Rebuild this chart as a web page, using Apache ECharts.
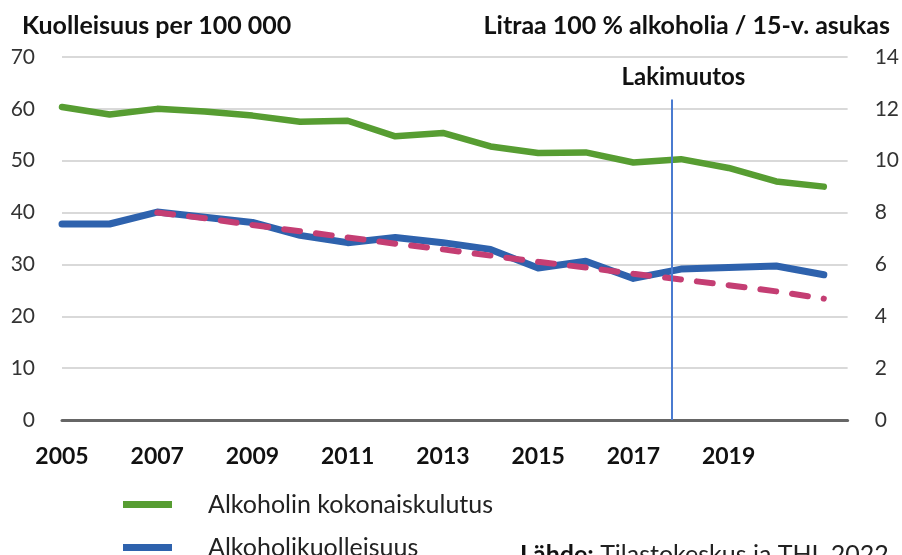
<!DOCTYPE html>
<html>
<head>
<meta charset="utf-8">
<script src="https://cdn.jsdelivr.net/npm/echarts@6/dist/echarts.min.js"></script>
<style>
html,body{margin:0;padding:0;background:#fff;}
#chartContainer{width:902px;height:555px;}
</style>
</head>
<body>
<div id="chartContainer"></div>
<script>
var myChart;//global so resize can redraw

var years=[2005,2006,2007,2008,2009,2010,2011,2012,2013,2014,2015,2016,2017,2018,2019,2020,2021];
// litraa 100 % alkoholia / 15-v. asukas (right axis)
var kulutus=[12.07,11.78,12.0,11.9,11.74,11.5,11.54,10.94,11.07,10.55,10.3,10.32,9.93,10.06,9.72,9.2,9.0];
// kuolleisuus per 100 000 (left axis)
var kuolleisuus=[37.8,37.8,40.1,39.1,38.1,35.6,34.2,35.2,34.2,32.9,29.3,30.6,27.3,29.1,29.4,29.7,28.0];
// trend line, from 2007 on
var trendYears=[2007,2008,2009,2010,2011,2012,2013,2014,2015,2016,2017,2018,2019,2020,2021];
var trendi=[40.0,38.9,37.6,36.4,35.2,34.0,32.9,31.7,30.5,29.4,28.2,27.1,26.0,24.8,23.4];
var lakimuutosVuosi=2017.8;
var leftTicks={min:0,max:70,interval:10};
var rightTicks={min:0,max:14,interval:2};

function pairs(xs,ys){
	var out=[];
	xs.forEach(function(x,i){out.push([x,ys[i]]);});
	return out;
}

function legendFor(name,top){
	return {
		data:[name],orient:'vertical',left:118,top:top,
		icon:'rect',itemWidth:49,itemHeight:7,
		textStyle:{fontFamily:'Lato',fontSize:25,color:'#222',padding:[0,0,0,31]}
	};
}

function showChart(){
	var dom=document.getElementById("chartContainer");
	myChart=echarts.init(dom);
	var font='Lato';
	var option={
		animation:false,
		textStyle:{fontFamily:font},
		title:[
			{text:'Kuolleisuus per 100 000',left:17,top:8,
			 textStyle:{fontFamily:font,fontSize:25,fontWeight:'bold',color:'#111'}},
			{text:'Litraa 100 % alkoholia / 15-v. asukas',right:7,top:8,
			 textStyle:{fontFamily:font,fontSize:25,fontWeight:'bold',color:'#111'}}
		],
		grid:{left:62,right:54,top:57,bottom:135},
		legend:[
			legendFor('Alkoholin kokonaiskulutus',487),
			legendFor('Alkoholikuolleisuus',530)
		],
		xAxis:{
			type:'value',min:2005,max:2021.5,interval:2,
			axisLine:{show:true,lineStyle:{color:'#666',width:3}},
			axisTick:{show:false},
			splitLine:{show:false},
			axisLabel:{margin:25,fontFamily:font,fontSize:23,fontWeight:'bold',color:'#111',
				showMaxLabel:false,
				formatter:function(v){return v<=2019?String(v):'';}}
		},
		yAxis:[
			{type:'value',min:leftTicks.min,max:leftTicks.max,interval:leftTicks.interval,
			 axisLine:{show:false},axisTick:{show:false},
			 splitLine:{lineStyle:{color:'#d9d9d9',width:2}},
			 axisLabel:{margin:27,fontFamily:font,fontSize:21,color:'#333'}},
			{type:'value',min:rightTicks.min,max:rightTicks.max,interval:rightTicks.interval,
			 axisLine:{show:false},axisTick:{show:false},
			 splitLine:{show:false},
			 axisLabel:{margin:27,fontFamily:font,fontSize:21,color:'#333'}}
		],
		series:[
			{name:'Alkoholin kokonaiskulutus',type:'line',yAxisIndex:1,
			 data:pairs(years,kulutus),showSymbol:false,
			 itemStyle:{color:'#579d32'},
			 lineStyle:{color:'#579d32',width:6.5,cap:'round',join:'round'}},
			{name:'Alkoholikuolleisuus',type:'line',yAxisIndex:0,
			 data:pairs(years,kuolleisuus),showSymbol:false,
			 itemStyle:{color:'#2e62ad'},
			 lineStyle:{color:'#2e62ad',width:7,cap:'round',join:'round'},
			 markLine:{
				silent:true,symbol:'none',
				lineStyle:{color:'#4a7bd0',width:2,type:'solid'},
				data:[[
					{coord:[lakimuutosVuosi,0]},
					{coord:[lakimuutosVuosi,61.8]}
				]],
				label:{show:true,position:'end',distance:10,formatter:'Lakimuutos',
					fontFamily:font,fontSize:24,fontWeight:'bold',color:'#111',padding:[0,0,0,24]}
			 }},
			{name:'Trendi',type:'line',yAxisIndex:0,
			 data:pairs(trendYears,trendi),showSymbol:false,
			 itemStyle:{color:'#c43e73'},
			 lineStyle:{color:'#c43e73',width:6,type:[16,16],cap:'round'}}
		],
		graphic:[
			{type:'text',left:520,top:542,
			 style:{text:'{b|Lähde:} Tilastokeskus ja THL 2022',
				rich:{b:{fontFamily:font,fontSize:25,fontWeight:'bold',fill:'#111'}},
				font:'25px '+font,fill:'#222'}}
		]
	};
	myChart.setOption(option,true);
}

showChart();
window.addEventListener("resize",function(){myChart.resize();});
</script>
</body>
</html>
